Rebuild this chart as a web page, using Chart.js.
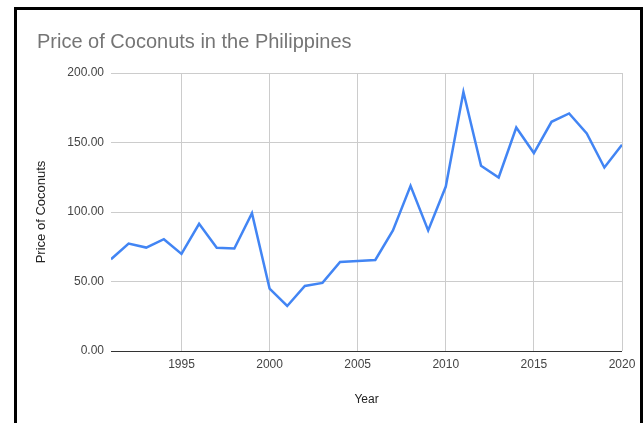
<!DOCTYPE html>
<html>
<head>
<meta charset="utf-8">
<script src="https://cdn.jsdelivr.net/npm/chart.js@4/dist/chart.umd.min.js"></script>
<style>
  html, body { margin: 0; padding: 0; background: #fff; }
  body { width: 644px; height: 423px; position: relative; overflow: hidden; }
  #wrap { position: absolute; left: 0; top: 0; width: 644px; height: 423px; }
  #frame { position: absolute; left: 14px; top: 7px; width: 623px; height: 440px;
           border: 3px solid #000; border-bottom: none; pointer-events: none; }
</style>
</head>
<body>
<div id="wrap"><canvas id="c" width="644" height="423"></canvas></div>
<div id="frame"></div>
<script>
const titleText = 'Price of Coconuts in the Philippines';
const xTitle = 'Year';
const yTitle = 'Price of Coconuts';
const years = [1991,1992,1993,1994,1995,1996,1997,1998,1999,2000,2001,2002,2003,2004,2005,2006,2007,2008,2009,2010,2011,2012,2013,2014,2015,2016,2017,2018,2019,2020];
const prices = [66.0,77.3,74.4,80.4,69.9,91.5,74.2,73.7,99.2,44.9,32.4,46.8,49.0,64.1,64.8,65.5,86.7,118.8,86.7,118.3,186.3,133.2,124.8,160.8,142.4,164.9,170.9,156.5,132.0,148.4];
const xTicks = [1995,2000,2005,2010,2015,2020];
const yTicks = [0,50,100,150,200];

const points = years.map((yr, i) => ({x: yr, y: prices[i]}));
const font = "Arial, 'Liberation Sans', sans-serif";

new Chart(document.getElementById('c'), {
  type: 'line',
  data: {
    datasets: [{
      data: points,
      borderColor: '#4285F4',
      borderWidth: 2.5,
      pointRadius: 0,
      tension: 0,
      fill: false
    }]
  },
  options: {
    responsive: false,
    animation: false,
    devicePixelRatio: 1,
    layout: { padding: { left: 37, right: 22, top: 30, bottom: 16 } },
    plugins: {
      legend: { display: false },
      tooltip: { enabled: false },
      title: {
        display: true,
        text: titleText,
        align: 'start',
        color: '#757575',
        font: { family: font, size: 20, weight: 'normal', lineHeight: 1.2 },
        padding: { top: 0, bottom: 19 }
      }
    },
    scales: {
      x: {
        type: 'linear',
        min: years[0],
        max: years[years.length - 1],
        afterBuildTicks: (s) => { s.ticks = xTicks.map(v => ({value: v})); },
        afterFit: (s) => { s.height = 56; },
        grid: { color: '#cccccc', lineWidth: 1, drawTicks: false },
        border: { display: false },
        ticks: {
          color: '#444444',
          padding: 6,
          maxRotation: 0,
          font: { family: font, size: 12 },
          callback: (v) => String(v)
        },
        title: {
          display: true,
          text: xTitle,
          color: '#222222',
          font: { family: font, size: 12 },
          padding: { top: 0, bottom: 0 }
        }
      },
      y: {
        min: yTicks[0],
        max: yTicks[yTicks.length - 1],
        afterBuildTicks: (s) => { s.ticks = yTicks.map(v => ({value: v})); },
        afterFit: (s) => { s.width = 74; },
        grid: {
          color: (ctx) => (ctx.tick && ctx.tick.value === 0) ? '#333333' : '#cccccc',
          lineWidth: 1,
          drawTicks: false
        },
        border: { display: false },
        ticks: {
          color: '#444444',
          padding: 7,
          font: { family: font, size: 12 },
          callback: (v) => Number(v).toFixed(2)
        },
        title: {
          display: true,
          text: yTitle,
          color: '#222222',
          font: { family: font, size: 13 },
          padding: { top: -3, bottom: 0 }
        }
      }
    }
  }
});
</script>
</body>
</html>
